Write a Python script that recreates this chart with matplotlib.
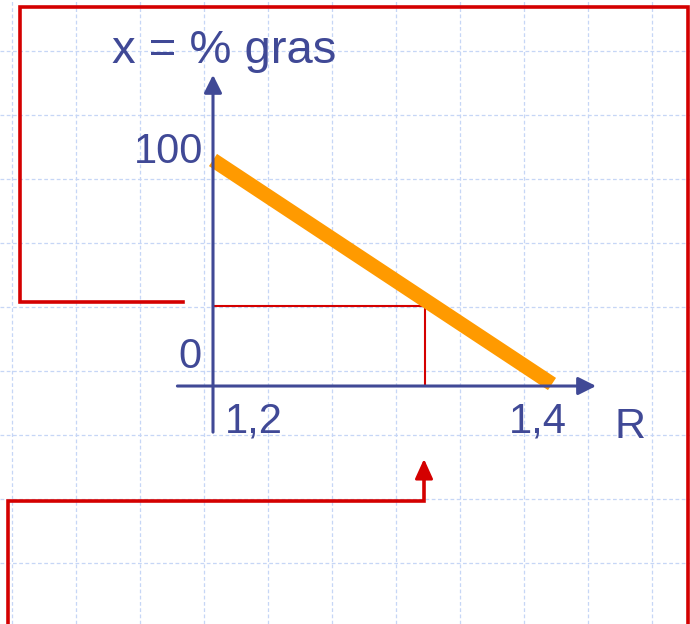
import matplotlib
matplotlib.use("Agg")
import matplotlib.pyplot as plt
import numpy as np

plt.rcParams["font.family"] = ["Liberation Sans", "DejaVu Sans"]

# ---------- data ----------
R_range = [1.2, 1.4]          # R at the two ends of the orange line
x_range = [100, 0]            # % gras at the two ends
R_point = 1.325               # read-off point (red guides)
x_point = 35

x_tick_labels = ["1,2", "1,4"]
y_tick_labels = ["100", "0"]
title_text = "x = % gras"
r_label = "R"

# slide decoration (page pixels)
grid_x = np.arange(12, 690, 64)
grid_y = np.arange(51, 624, 64)
upper_frame = ([183, 20, 20, 688, 688], [302, 302, 7, 7, 624])
lower_frame = ([8, 8, 424, 424], [624, 501, 501, 470])
lower_arrow_tip = (424, 459)

BLUE = "#404996"
RED = "#d40000"
ORANGE = "#ff9a00"
GRID = "#c6d6f6"

fig = plt.figure(figsize=(6.9, 6.24), dpi=100)
fig.patch.set_facecolor("white")

# background: grid paper + red frames, in pixel units
bg = fig.add_axes([0, 0, 1, 1])
bg.set_xlim(0, 690)
bg.set_ylim(624, 0)
bg.axis("off")
for gx in grid_x:
    bg.axvline(gx, color=GRID, lw=0.9, ls=(0, (3, 2)))
for gy in grid_y:
    bg.axhline(gy, color=GRID, lw=0.9, ls=(0, (3, 2)))
bg.plot(*upper_frame, color=RED, lw=2.6, solid_joinstyle="miter")
bg.plot(*lower_frame, color=RED, lw=2.6, solid_joinstyle="miter")
bg.annotate("", xy=lower_arrow_tip, xytext=(lower_frame[0][-1], lower_frame[1][-1]),
            arrowprops=dict(arrowstyle="-|>,head_length=0.55,head_width=0.25",
                            color=RED, lw=2.0, mutation_scale=22,
                            shrinkA=0, shrinkB=0))
bg.text(112, 63, title_text, ha="left", va="baseline", fontsize=34, color=BLUE)
bg.text(614, 438, r_label, ha="left", va="baseline", fontsize=31, color=BLUE)

# the chart itself
ax = fig.add_axes([213 / 690, 1 - 384 / 624, 339 / 690, 224 / 624])
ax.set_xlim(R_range)
ax.set_ylim(0, 100)
ax.axis("off")
ax.patch.set_alpha(0)

# axes with arrows
ax.annotate("", xy=(R_range[0], 138), xytext=(R_range[0], -21.5),
            arrowprops=dict(arrowstyle="-|>,head_length=0.4,head_width=0.2",
                            color=BLUE, lw=2.2, mutation_scale=27,
                            shrinkA=0, shrinkB=0), annotation_clip=False)
ax.annotate("", xy=(1.426, -0.9), xytext=(1.179, -0.9),
            arrowprops=dict(arrowstyle="-|>,head_length=0.4,head_width=0.2",
                            color=BLUE, lw=2.2, mutation_scale=27,
                            shrinkA=0, shrinkB=0), annotation_clip=False)

# red guide lines
ax.plot([R_range[0], R_point], [x_point, x_point], color=RED, lw=1.5, clip_on=False)
ax.plot([R_point, R_point], [x_point, 0], color=RED, lw=1.5, clip_on=False)

# orange line
ax.plot(R_range, x_range, color=ORANGE, lw=10.5, solid_capstyle="butt", clip_on=False)

# tick labels
ax.annotate(y_tick_labels[0], (R_range[0], 100), xytext=(-10, -3), textcoords="offset pixels",
            ha="right", va="baseline", fontsize=30, color=BLUE, annotation_clip=False)
ax.annotate(y_tick_labels[1], (R_range[0], 0), xytext=(-11, 16), textcoords="offset pixels",
            ha="right", va="baseline", fontsize=30, color=BLUE, annotation_clip=False)
ax.annotate(x_tick_labels[0], (R_range[0], 0), xytext=(12, -49), textcoords="offset pixels",
            ha="left", va="baseline", fontsize=30, color=BLUE, annotation_clip=False)
ax.annotate(x_tick_labels[1], (R_range[1], 0), xytext=(15, -49), textcoords="offset pixels",
            ha="right", va="baseline", fontsize=30, color=BLUE, annotation_clip=False)

fig.savefig("out.png", dpi=100, facecolor="white")
